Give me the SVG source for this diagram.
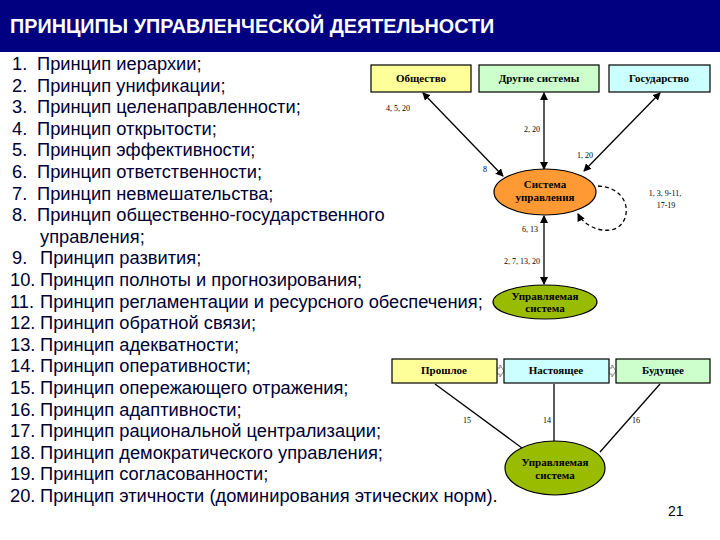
<svg xmlns="http://www.w3.org/2000/svg" width="720" height="540" viewBox="0 0 720 540">
<style>
.li{font-family:"Liberation Sans",Arial,sans-serif;font-size:18.3px;fill:#000033}
.bx{stroke:#000;stroke-width:1.2}
.bt{font-family:"Liberation Serif","Times New Roman",serif;font-size:11px;font-weight:bold;fill:#000;text-anchor:middle}
.lb{font-family:"Liberation Serif","Times New Roman",serif;font-size:8px;fill:#000;text-anchor:middle}
.ln{stroke:#000;stroke-width:1.3;fill:none}
</style>
<defs>
<marker id="ah" markerWidth="8" markerHeight="8" refX="7" refY="4" orient="auto-start-reverse" markerUnits="userSpaceOnUse"><path d="M0,0L8,4L0,8z" fill="#000"/></marker>
</defs>
<rect width="720" height="540" fill="#fff"/>
<rect width="720" height="52" fill="#000080"/>
<text x="10" y="33" font-family="Liberation Sans,Arial,sans-serif" font-size="19.8" font-weight="bold" fill="#fff">ПРИНЦИПЫ УПРАВЛЕНЧЕСКОЙ ДЕЯТЕЛЬНОСТИ</text>
<g id="list" class="li">
<text x="12" y="70">1.<tspan x="37">Принцип иерархии;</tspan></text>
<text x="12" y="92">2.<tspan x="37">Принцип унификации;</tspan></text>
<text x="12" y="113">3.<tspan x="37">Принцип целенаправленности;</tspan></text>
<text x="12" y="135">4.<tspan x="37">Принцип открытости;</tspan></text>
<text x="12" y="156">5.<tspan x="37">Принцип эффективности;</tspan></text>
<text x="12" y="178">6.<tspan x="37">Принцип ответственности;</tspan></text>
<text x="12" y="200">7.<tspan x="37">Принцип невмешательства;</tspan></text>
<text x="12" y="221">8.<tspan x="37">Принцип общественно-государственного</tspan></text>
<text x="40" y="243">управления;</text>
<text x="12" y="264">9.<tspan x="40">Принцип развития;</tspan></text>
<text x="10" y="286">10.<tspan x="40">Принцип полноты и прогнозирования;</tspan></text>
<text x="10" y="308">11.<tspan x="40">Принцип регламентации и ресурсного обеспечения;</tspan></text>
<text x="10" y="329">12.<tspan x="40">Принцип обратной связи;</tspan></text>
<text x="10" y="351">13.<tspan x="40">Принцип адекватности;</tspan></text>
<text x="10" y="372">14.<tspan x="40">Принцип оперативности;</tspan></text>
<text x="10" y="394">15.<tspan x="40">Принцип опережающего отражения;</tspan></text>
<text x="10" y="416">16.<tspan x="40">Принцип адаптивности;</tspan></text>
<text x="10" y="437">17.<tspan x="40">Принцип рациональной централизации;</tspan></text>
<text x="10" y="459">18.<tspan x="40">Принцип демократического управления;</tspan></text>
<text x="10" y="480">19.<tspan x="40">Принцип согласованности;</tspan></text>
<text x="10" y="502">20.<tspan x="40">Принцип этичности (доминирования этических норм).</tspan></text>
</g>
<g id="connectors">
<line class="ln" x1="423" y1="93" x2="503" y2="176" marker-start="url(#ah)" marker-end="url(#ah)"/>
<line class="ln" x1="544" y1="93" x2="544" y2="169" marker-start="url(#ah)" marker-end="url(#ah)"/>
<line class="ln" x1="660" y1="93" x2="584" y2="171" marker-start="url(#ah)" marker-end="url(#ah)"/>
<path class="ln" d="M598,186 C635,188 632,228 610,230 C595,232 582,222 578,214" stroke-dasharray="4,3" marker-end="url(#ah)"/>
<line class="ln" x1="544" y1="216" x2="544" y2="284" marker-start="url(#ah)" marker-end="url(#ah)"/>
<line class="ln" x1="435" y1="384" x2="522" y2="448"/>
<line class="ln" x1="554" y1="384" x2="554" y2="442"/>
<line class="ln" x1="660" y1="384" x2="600" y2="452"/>
<path d="M497,368h3v-3l4,6l-4,6v-3h-3z" fill="#fff" stroke="#888"/>
<path d="M609,368h3v-3l4,6l-4,6v-3h-3z" fill="#fff" stroke="#888"/>
<text class="lb" x="398" y="111">4, 5, 20</text>
<text class="lb" x="485" y="172">8</text>
<text class="lb" x="532" y="132">2, 20</text>
<text class="lb" x="585" y="158">1, 20</text>
<text class="lb" x="665" y="196">1, 3, 9-11,</text>
<text class="lb" x="666" y="208">17-19</text>
<text class="lb" x="530" y="232">6, 13</text>
<text class="lb" x="522" y="264">2, 7, 13, 20</text>
<text class="lb" x="467" y="423">15</text>
<text class="lb" x="547" y="423">14</text>
<text class="lb" x="636" y="423">16</text>
</g>
<g id="obshestvo"><rect class="bx" x="371" y="65" width="100" height="27" fill="#ffff99"/><text class="bt" x="421" y="82">Общество</text></g>
<g id="drugie"><rect class="bx" x="479" y="65" width="120" height="27" fill="#ccffcc"/><text class="bt" x="539" y="82">Другие системы</text></g>
<g id="gosudarstvo"><rect class="bx" x="609" y="65" width="101" height="27" fill="#ccffff"/><text class="bt" x="659" y="82">Государство</text></g>
<g id="sistema"><ellipse class="bx" cx="545" cy="192" rx="51" ry="23" fill="#ff9933"/><text class="bt" x="545" y="188">Система</text><text class="bt" x="545" y="201">управления</text></g>
<g id="upr1"><ellipse class="bx" cx="545" cy="302" rx="52" ry="17" fill="#99bb00"/><text class="bt" x="545" y="300">Управляемая</text><text class="bt" x="545" y="312">система</text></g>
<g id="proshloe"><rect class="bx" x="392" y="359" width="105" height="24" fill="#ffff99"/><text class="bt" x="444" y="374">Прошлое</text></g>
<g id="nastoyashee"><rect class="bx" x="504" y="359" width="105" height="24" fill="#ccffff"/><text class="bt" x="556" y="374">Настоящее</text></g>
<g id="budushee"><rect class="bx" x="616" y="359" width="94" height="24" fill="#ccffcc"/><text class="bt" x="663" y="374">Будущее</text></g>
<g id="upr2"><ellipse class="bx" cx="555" cy="468" rx="50" ry="27" fill="#99bb00"/><text class="bt" x="555" y="466">Управляемая</text><text class="bt" x="555" y="479">система</text></g>
<text x="668" y="516" font-family="Liberation Sans,Arial,sans-serif" font-size="14" fill="#000">21</text>
</svg>
